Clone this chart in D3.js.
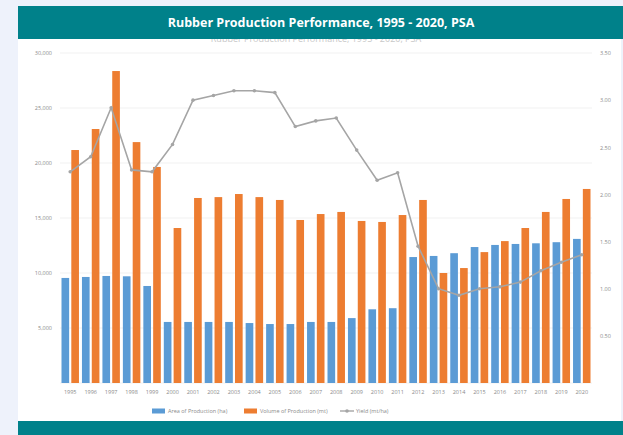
<!DOCTYPE html>
<html>
<head>
<meta charset="utf-8">
<script src="https://cdn.jsdelivr.net/npm/d3@7"></script>
<style>
  body { margin: 0; background: #eef2fb; }
  svg { display: block; }
  text { font-family: "Open Sans", "DejaVu Sans", sans-serif; }
</style>
</head>
<body>
<svg id="chart" width="623" height="435"></svg>
<script>
var years = ["1995","1996","1997","1998","1999","2000","2001","2002","2003","2004","2005","2006","2007",
             "2008","2009","2010","2011","2012","2013","2014","2015","2016","2017","2018","2019","2020"];

// area of production (ha)
var area = [9550, 9640, 9730, 9700, 8820, 5550, 5550, 5550, 5550, 5450, 5360, 5360, 5550,
            5550, 5900, 6700, 6800, 11450, 11550, 11800, 12360, 12550, 12640, 12700, 12800, 13100];

// volume of production (mt)
var volume = [21180, 23090, 28360, 21900, 19640, 14090, 16820, 16900, 17180, 16900, 16640, 14820, 15360,
              15550, 14730, 14640, 15270, 16640, 10000, 10450, 11900, 12900, 14090, 15550, 16730, 17640];

// yield (mt/ha)
var yieldVals = [2.24, 2.40, 2.92, 2.26, 2.24, 2.53, 3.00, 3.05, 3.10, 3.10, 3.08, 2.72, 2.78,
                 2.81, 2.47, 2.15, 2.23, 1.45, 1.00, 0.93, 1.00, 1.02, 1.07, 1.19, 1.28, 1.36];

var leftTicks = [5000, 10000, 15000, 20000, 25000, 30000];
var rightTicks = [0.5, 1.0, 1.5, 2.0, 2.5, 3.0, 3.5];
var seriesNames = ["Area of Production (ha)", "Volume of Production (mt)", "Yield (mt/ha)"];
var title = "Rubber Production Performance, 1995 - 2020, PSA";

var svg = d3.select("#chart"),
    width = +svg.attr("width"),
    height = +svg.attr("height");

var blue = "#5b9bd5", orange = "#ed7d31", grey = "#a5a5a5", teal = "#00818a";

// card
svg.append("rect").attr("x", 18).attr("y", 6).attr("width", 603).attr("height", 429).attr("fill", "#fff");

// faint chart title, mostly hidden under the banner
svg.append("text").attr("x", 316).attr("y", 42).attr("text-anchor", "middle")
  .attr("font-size", 9).attr("fill", "#c8c8c8").text(title);

svg.append("rect").attr("x", 18).attr("y", 6).attr("width", 605).attr("height", 33).attr("fill", teal);
svg.append("text").attr("x", 321).attr("y", 27).attr("text-anchor", "middle")
  .attr("font-size", 12.5).attr("font-weight", "bold").attr("fill", "#fff").text(title);

svg.append("rect").attr("x", 18).attr("y", 421).attr("width", 605).attr("height", 14).attr("fill", teal);

var x = d3.scaleBand().domain(years).range([60, 592]).paddingInner(0).paddingOuter(0);
var xs = d3.scaleBand().domain(["area", "volume"]).range([1.5, x.bandwidth() - 1.5]).paddingInner(0.22);
var yL = d3.scaleLinear().domain([0, 30000]).range([383, 53]);
var yR = d3.scaleLinear().domain([0, 3.5]).range([383, 53]);

// gridlines
svg.append("g").selectAll("line").data([0].concat(leftTicks)).join("line")
  .attr("x1", 60).attr("x2", 592)
  .attr("y1", function(d) { return yL(d); }).attr("y2", function(d) { return yL(d); })
  .attr("stroke", "#eeeeee").attr("stroke-width", 0.8);

// axes
var gl = svg.append("g").attr("transform", "translate(54,0)")
  .call(d3.axisLeft(yL).tickValues(leftTicks).tickSize(0).tickPadding(2).tickFormat(d3.format(",")));
gl.select(".domain").remove();
gl.selectAll("text").attr("font-size", 5.5).attr("fill", "#8a8a8a");

var gr = svg.append("g").attr("transform", "translate(598,0)")
  .call(d3.axisRight(yR).tickValues(rightTicks).tickSize(0).tickPadding(2).tickFormat(d3.format(".2f")));
gr.select(".domain").remove();
gr.selectAll("text").attr("font-size", 5.5).attr("fill", "#8a8a8a");

var gx = svg.append("g").attr("transform", "translate(0,386)")
  .call(d3.axisBottom(x).tickSize(0).tickPadding(4));
gx.select(".domain").remove();
gx.selectAll("text").attr("font-size", 5.5).attr("fill", "#8a8a8a");

// bars
svg.append("g").selectAll("rect").data(area).join("rect")
  .attr("x", function(d, i) { return x(years[i]) + xs("area"); })
  .attr("y", function(d) { return yL(d); })
  .attr("width", xs.bandwidth())
  .attr("height", function(d) { return yL(0) - yL(d); })
  .attr("fill", blue);

svg.append("g").selectAll("rect").data(volume).join("rect")
  .attr("x", function(d, i) { return x(years[i]) + xs("volume"); })
  .attr("y", function(d) { return yL(d); })
  .attr("width", xs.bandwidth())
  .attr("height", function(d) { return yL(0) - yL(d); })
  .attr("fill", orange);

// yield line
var line = d3.line()
  .x(function(d, i) { return x(years[i]) + x.bandwidth() / 2; })
  .y(function(d) { return yR(d); });

svg.append("path").datum(yieldVals)
  .attr("d", line).attr("fill", "none").attr("stroke", grey).attr("stroke-width", 1.6);

svg.append("g").selectAll("circle").data(yieldVals).join("circle")
  .attr("cx", function(d, i) { return x(years[i]) + x.bandwidth() / 2; })
  .attr("cy", function(d) { return yR(d); })
  .attr("r", 1.8).attr("fill", grey);

// legend
var legend = svg.append("g").attr("transform", "translate(152,411)");
var lx = [0, 92, 188];
seriesNames.forEach(function(name, i) {
  var g = legend.append("g").attr("transform", "translate(" + lx[i] + ",0)");
  if (i < 2) {
    g.append("rect").attr("x", 0).attr("y", -2.5).attr("width", 13).attr("height", 5)
      .attr("fill", i === 0 ? blue : orange);
  } else {
    g.append("line").attr("x1", 0).attr("x2", 14).attr("y1", 0).attr("y2", 0)
      .attr("stroke", grey).attr("stroke-width", 1.4);
    g.append("circle").attr("cx", 7).attr("cy", 0).attr("r", 1.8).attr("fill", grey);
  }
  g.append("text").attr("x", 16).attr("y", 2).attr("font-size", 5.5).attr("fill", "#8a8a8a").text(name);
});
</script>
</body>
</html>
